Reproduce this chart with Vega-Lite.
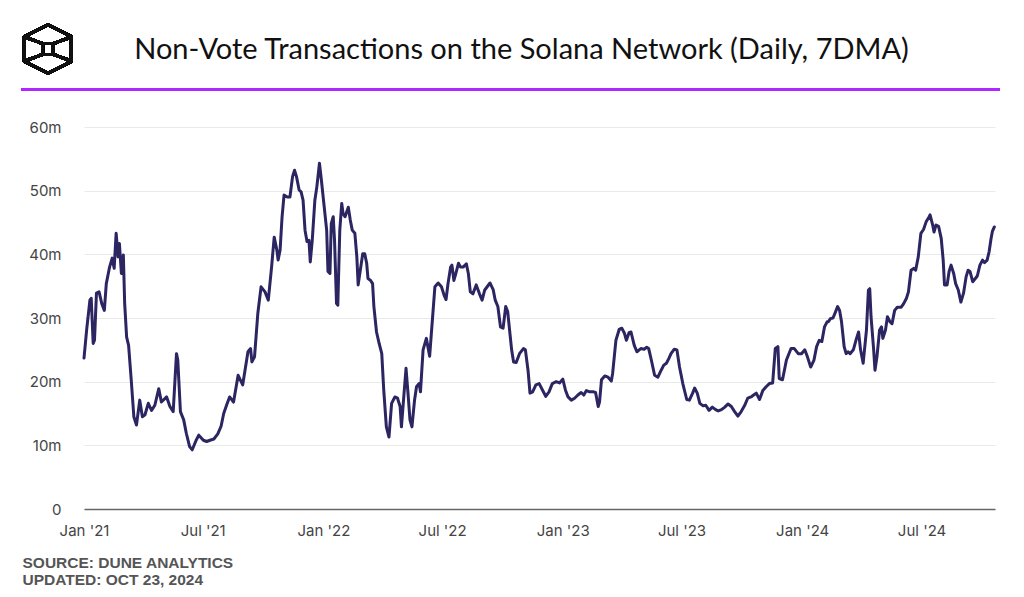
{
  "$schema": "https://vega.github.io/schema/vega-lite/v6.json",
  "width": 911,
  "height": 382,
  "autosize": {"type": "none"},
  "padding": {"left": 84, "top": 127, "right": 29, "bottom": 88},
  "background": "#ffffff",
  "config": {"view": {"stroke": null}},
  "title": {
    "text": "Non-Vote Transactions on the Solana Network (Daily, 7DMA)",
    "font": "Lato",
    "fontSize": 29,
    "fontWeight": 400,
    "color": "#111111",
    "anchor": "middle",
    "frame": "group",
    "baseline": "alphabetic",
    "offset": -64.5,
    "dx": -18
  },
  "data": {
    "format": {"parse": {"date": "date:'%Y-%m-%d'"}},
    "values": [
      {"date":"2021-01-01","v":23.7},{"date":"2021-01-05","v":28.1},{"date":"2021-01-10","v":32.8},{"date":"2021-01-12","v":33.1},
      {"date":"2021-01-15","v":26.0},{"date":"2021-01-17","v":26.5},{"date":"2021-01-20","v":33.9},{"date":"2021-01-24","v":34.1},
      {"date":"2021-01-28","v":32.3},{"date":"2021-02-01","v":31.2},{"date":"2021-02-04","v":35.4},{"date":"2021-02-09","v":38.0},
      {"date":"2021-02-13","v":39.4},{"date":"2021-02-16","v":37.8},{"date":"2021-02-19","v":43.3},{"date":"2021-02-22","v":39.6},
      {"date":"2021-02-24","v":41.7},{"date":"2021-02-27","v":37.0},{"date":"2021-03-02","v":39.9},{"date":"2021-03-04","v":32.3},
      {"date":"2021-03-07","v":27.0},{"date":"2021-03-10","v":25.7},{"date":"2021-03-14","v":20.3},{"date":"2021-03-18","v":14.5},
      {"date":"2021-03-22","v":13.2},{"date":"2021-03-27","v":17.1},{"date":"2021-03-31","v":14.5},{"date":"2021-04-04","v":14.8},
      {"date":"2021-04-09","v":16.6},{"date":"2021-04-14","v":15.5},{"date":"2021-04-19","v":16.3},{"date":"2021-04-25","v":18.9},
      {"date":"2021-04-29","v":16.8},{"date":"2021-05-07","v":17.6},{"date":"2021-05-12","v":16.1},{"date":"2021-05-17","v":15.3},
      {"date":"2021-05-22","v":24.4},{"date":"2021-05-24","v":23.4},{"date":"2021-05-28","v":15.3},{"date":"2021-06-02","v":14.0},
      {"date":"2021-06-06","v":11.9},{"date":"2021-06-11","v":9.8},{"date":"2021-06-15","v":9.3},{"date":"2021-06-21","v":10.8},
      {"date":"2021-06-25","v":11.6},{"date":"2021-07-02","v":10.8},{"date":"2021-07-07","v":10.6},{"date":"2021-07-12","v":10.8},
      {"date":"2021-07-18","v":11.0},{"date":"2021-07-24","v":11.8},{"date":"2021-07-29","v":13.0},{"date":"2021-08-02","v":15.0},
      {"date":"2021-08-07","v":16.5},{"date":"2021-08-11","v":17.6},{"date":"2021-08-17","v":16.8},{"date":"2021-08-24","v":21.0},
      {"date":"2021-08-31","v":19.5},{"date":"2021-09-08","v":24.7},{"date":"2021-09-12","v":25.2},{"date":"2021-09-14","v":23.1},
      {"date":"2021-09-18","v":23.9},{"date":"2021-09-23","v":30.7},{"date":"2021-09-28","v":34.9},{"date":"2021-10-04","v":34.1},
      {"date":"2021-10-09","v":32.8},{"date":"2021-10-14","v":38.0},{"date":"2021-10-18","v":42.7},{"date":"2021-10-22","v":40.7},
      {"date":"2021-10-24","v":39.1},{"date":"2021-10-27","v":40.7},{"date":"2021-10-30","v":45.9},{"date":"2021-11-02","v":49.3},
      {"date":"2021-11-07","v":49.0},{"date":"2021-11-11","v":49.0},{"date":"2021-11-15","v":52.2},{"date":"2021-11-18","v":53.2},
      {"date":"2021-11-21","v":52.2},{"date":"2021-11-25","v":50.1},{"date":"2021-11-28","v":49.8},{"date":"2021-12-01","v":48.5},
      {"date":"2021-12-04","v":43.8},{"date":"2021-12-07","v":42.0},{"date":"2021-12-10","v":42.2},{"date":"2021-12-12","v":38.8},
      {"date":"2021-12-15","v":42.2},{"date":"2021-12-19","v":48.5},{"date":"2021-12-22","v":50.6},{"date":"2021-12-26","v":54.3},
      {"date":"2021-12-29","v":51.6},{"date":"2022-01-02","v":47.7},{"date":"2022-01-06","v":43.8},{"date":"2022-01-08","v":37.3},
      {"date":"2022-01-11","v":37.0},{"date":"2022-01-13","v":44.8},{"date":"2022-01-16","v":45.9},{"date":"2022-01-18","v":42.2},
      {"date":"2022-01-21","v":32.3},{"date":"2022-01-23","v":32.0},{"date":"2022-01-26","v":43.8},{"date":"2022-01-29","v":48.0},
      {"date":"2022-01-31","v":46.4},{"date":"2022-02-03","v":45.9},{"date":"2022-02-08","v":47.4},{"date":"2022-02-11","v":45.4},
      {"date":"2022-02-14","v":43.8},{"date":"2022-02-18","v":43.3},{"date":"2022-02-21","v":39.6},{"date":"2022-02-23","v":35.2},
      {"date":"2022-02-27","v":38.0},{"date":"2022-03-02","v":40.1},{"date":"2022-03-05","v":40.1},{"date":"2022-03-08","v":38.6},
      {"date":"2022-03-10","v":36.2},{"date":"2022-03-14","v":35.9},{"date":"2022-03-17","v":35.4},{"date":"2022-03-19","v":31.8},
      {"date":"2022-03-23","v":27.8},{"date":"2022-03-27","v":26.0},{"date":"2022-03-31","v":24.4},{"date":"2022-04-03","v":18.7},
      {"date":"2022-04-07","v":12.9},{"date":"2022-04-11","v":11.3},{"date":"2022-04-15","v":16.6},{"date":"2022-04-20","v":17.6},
      {"date":"2022-04-24","v":17.4},{"date":"2022-04-28","v":16.1},{"date":"2022-04-30","v":12.9},{"date":"2022-05-04","v":18.2},
      {"date":"2022-05-07","v":22.1},{"date":"2022-05-10","v":18.2},{"date":"2022-05-13","v":14.0},{"date":"2022-05-16","v":12.9},
      {"date":"2022-05-20","v":17.1},{"date":"2022-05-23","v":19.2},{"date":"2022-05-27","v":19.7},{"date":"2022-05-29","v":18.4},
      {"date":"2022-06-02","v":25.0},{"date":"2022-06-07","v":26.8},{"date":"2022-06-12","v":24.0},{"date":"2022-06-20","v":34.9},
      {"date":"2022-06-25","v":35.5},{"date":"2022-06-30","v":34.9},{"date":"2022-07-04","v":33.6},{"date":"2022-07-07","v":32.9},
      {"date":"2022-07-10","v":35.4},{"date":"2022-07-14","v":38.0},{"date":"2022-07-16","v":38.3},{"date":"2022-07-19","v":35.9},
      {"date":"2022-07-22","v":37.0},{"date":"2022-07-26","v":38.6},{"date":"2022-07-29","v":38.0},{"date":"2022-08-02","v":38.0},
      {"date":"2022-08-07","v":38.5},{"date":"2022-08-10","v":37.0},{"date":"2022-08-13","v":34.1},{"date":"2022-08-17","v":33.8},
      {"date":"2022-08-22","v":35.2},{"date":"2022-08-27","v":33.8},{"date":"2022-08-31","v":32.8},{"date":"2022-09-04","v":34.4},
      {"date":"2022-09-12","v":35.5},{"date":"2022-09-17","v":34.4},{"date":"2022-09-20","v":32.8},{"date":"2022-09-24","v":31.8},
      {"date":"2022-09-28","v":28.6},{"date":"2022-10-02","v":28.4},{"date":"2022-10-06","v":31.8},{"date":"2022-10-09","v":31.0},
      {"date":"2022-10-15","v":25.0},{"date":"2022-10-18","v":23.1},{"date":"2022-10-22","v":23.0},{"date":"2022-10-27","v":24.4},
      {"date":"2022-11-02","v":25.2},{"date":"2022-11-05","v":25.0},{"date":"2022-11-09","v":21.8},{"date":"2022-11-12","v":18.2},
      {"date":"2022-11-16","v":18.4},{"date":"2022-11-21","v":19.5},{"date":"2022-11-26","v":19.7},{"date":"2022-12-01","v":18.7},
      {"date":"2022-12-06","v":17.7},{"date":"2022-12-11","v":18.4},{"date":"2022-12-16","v":19.7},{"date":"2022-12-22","v":20.0},
      {"date":"2022-12-27","v":19.8},{"date":"2023-01-01","v":20.4},{"date":"2023-01-05","v":18.7},{"date":"2023-01-09","v":17.6},
      {"date":"2023-01-14","v":17.1},{"date":"2023-01-19","v":17.4},{"date":"2023-01-24","v":17.9},{"date":"2023-01-29","v":18.3},
      {"date":"2023-02-02","v":17.9},{"date":"2023-02-06","v":18.6},{"date":"2023-02-11","v":18.4},{"date":"2023-02-17","v":18.4},
      {"date":"2023-02-20","v":18.3},{"date":"2023-02-24","v":16.1},{"date":"2023-02-26","v":16.8},{"date":"2023-03-01","v":20.3},
      {"date":"2023-03-06","v":20.9},{"date":"2023-03-11","v":20.7},{"date":"2023-03-16","v":20.1},{"date":"2023-03-18","v":21.3},
      {"date":"2023-03-23","v":26.5},{"date":"2023-03-28","v":28.2},{"date":"2023-04-01","v":28.4},{"date":"2023-04-05","v":27.6},
      {"date":"2023-04-08","v":26.5},{"date":"2023-04-12","v":27.7},{"date":"2023-04-15","v":27.8},{"date":"2023-04-20","v":25.7},
      {"date":"2023-04-24","v":24.7},{"date":"2023-04-30","v":25.2},{"date":"2023-05-05","v":25.1},{"date":"2023-05-09","v":25.4},
      {"date":"2023-05-12","v":25.2},{"date":"2023-05-16","v":23.4},{"date":"2023-05-21","v":21.0},{"date":"2023-05-26","v":20.7},
      {"date":"2023-05-31","v":21.8},{"date":"2023-06-04","v":22.6},{"date":"2023-06-08","v":22.9},{"date":"2023-06-12","v":23.7},
      {"date":"2023-06-15","v":24.4},{"date":"2023-06-20","v":25.1},{"date":"2023-06-24","v":25.0},{"date":"2023-06-28","v":22.3},
      {"date":"2023-07-03","v":19.7},{"date":"2023-07-09","v":17.2},{"date":"2023-07-13","v":17.1},{"date":"2023-07-18","v":18.2},
      {"date":"2023-07-21","v":19.0},{"date":"2023-07-25","v":18.2},{"date":"2023-07-29","v":16.6},{"date":"2023-08-03","v":16.2},
      {"date":"2023-08-07","v":16.3},{"date":"2023-08-12","v":15.5},{"date":"2023-08-17","v":16.0},{"date":"2023-08-22","v":15.6},
      {"date":"2023-08-26","v":15.4},{"date":"2023-08-31","v":15.6},{"date":"2023-09-05","v":16.0},{"date":"2023-09-10","v":16.5},
      {"date":"2023-09-15","v":16.1},{"date":"2023-09-20","v":15.3},{"date":"2023-09-25","v":14.6},{"date":"2023-09-30","v":15.3},
      {"date":"2023-10-05","v":16.2},{"date":"2023-10-10","v":17.4},{"date":"2023-10-15","v":17.6},{"date":"2023-10-19","v":17.9},
      {"date":"2023-10-23","v":18.2},{"date":"2023-10-28","v":17.2},{"date":"2023-11-02","v":18.6},{"date":"2023-11-07","v":19.2},
      {"date":"2023-11-12","v":19.7},{"date":"2023-11-17","v":19.8},{"date":"2023-11-21","v":25.2},{"date":"2023-11-25","v":25.5},
      {"date":"2023-11-27","v":20.5},{"date":"2023-12-02","v":20.3},{"date":"2023-12-08","v":23.4},{"date":"2023-12-15","v":25.2},
      {"date":"2023-12-20","v":25.2},{"date":"2023-12-26","v":24.4},{"date":"2023-12-31","v":24.4},{"date":"2024-01-05","v":25.0},
      {"date":"2024-01-09","v":23.9},{"date":"2024-01-14","v":22.3},{"date":"2024-01-19","v":23.4},{"date":"2024-01-23","v":25.5},
      {"date":"2024-01-27","v":26.5},{"date":"2024-01-31","v":26.3},{"date":"2024-02-04","v":28.6},{"date":"2024-02-08","v":29.4},
      {"date":"2024-02-10","v":29.4},{"date":"2024-02-13","v":29.9},{"date":"2024-02-17","v":30.0},{"date":"2024-02-21","v":31.0},
      {"date":"2024-02-24","v":31.8},{"date":"2024-02-27","v":31.2},{"date":"2024-03-01","v":29.4},{"date":"2024-03-05","v":25.5},
      {"date":"2024-03-08","v":24.4},{"date":"2024-03-11","v":24.7},{"date":"2024-03-14","v":24.4},{"date":"2024-03-19","v":25.0},
      {"date":"2024-03-23","v":26.5},{"date":"2024-03-27","v":27.8},{"date":"2024-03-30","v":25.0},{"date":"2024-04-03","v":22.9},
      {"date":"2024-04-08","v":28.1},{"date":"2024-04-11","v":34.4},{"date":"2024-04-13","v":34.6},{"date":"2024-04-15","v":30.2},
      {"date":"2024-04-19","v":25.0},{"date":"2024-04-21","v":21.8},{"date":"2024-04-24","v":23.9},{"date":"2024-04-28","v":28.1},
      {"date":"2024-05-01","v":28.6},{"date":"2024-05-03","v":26.8},{"date":"2024-05-07","v":28.1},{"date":"2024-05-10","v":30.2},
      {"date":"2024-05-14","v":29.4},{"date":"2024-05-17","v":29.1},{"date":"2024-05-21","v":31.2},{"date":"2024-05-25","v":31.7},
      {"date":"2024-05-31","v":31.7},{"date":"2024-06-04","v":32.3},{"date":"2024-06-08","v":33.1},{"date":"2024-06-11","v":34.1},
      {"date":"2024-06-15","v":37.5},{"date":"2024-06-19","v":37.8},{"date":"2024-06-22","v":37.5},{"date":"2024-06-26","v":39.6},
      {"date":"2024-06-30","v":43.3},{"date":"2024-07-04","v":43.9},{"date":"2024-07-08","v":45.1},{"date":"2024-07-12","v":45.8},
      {"date":"2024-07-14","v":46.2},{"date":"2024-07-18","v":44.6},{"date":"2024-07-20","v":43.5},{"date":"2024-07-23","v":44.6},
      {"date":"2024-07-27","v":44.4},{"date":"2024-07-31","v":42.5},{"date":"2024-08-03","v":39.1},{"date":"2024-08-05","v":35.2},
      {"date":"2024-08-09","v":35.2},{"date":"2024-08-12","v":37.3},{"date":"2024-08-15","v":38.3},{"date":"2024-08-19","v":37.0},
      {"date":"2024-08-22","v":35.4},{"date":"2024-08-26","v":34.4},{"date":"2024-08-30","v":32.5},{"date":"2024-09-03","v":33.9},
      {"date":"2024-09-07","v":36.5},{"date":"2024-09-10","v":37.5},{"date":"2024-09-13","v":37.3},{"date":"2024-09-17","v":35.7},
      {"date":"2024-09-21","v":36.2},{"date":"2024-09-24","v":36.6},{"date":"2024-09-28","v":38.3},{"date":"2024-10-02","v":39.1},
      {"date":"2024-10-05","v":38.7},{"date":"2024-10-09","v":39.1},{"date":"2024-10-12","v":40.4},{"date":"2024-10-15","v":42.5},
      {"date":"2024-10-17","v":43.6},{"date":"2024-10-20","v":44.3}
    ]
  },
  "layer": [
    {
      "mark": {"type": "line", "color": "#2b2562", "strokeWidth": 3, "strokeJoin": "round", "strokeCap": "round"},
      "encoding": {
        "x": {
          "field": "date",
          "type": "temporal",
          "scale": {"domain": [{"year": 2021, "month": 1, "date": 1}, {"year": 2024, "month": 10, "date": 21}]},
          "axis": {
            "values": [
              {"year": 2021, "month": 1, "date": 1}, {"year": 2021, "month": 7, "date": 1},
              {"year": 2022, "month": 1, "date": 1}, {"year": 2022, "month": 7, "date": 1},
              {"year": 2023, "month": 1, "date": 1}, {"year": 2023, "month": 7, "date": 1},
              {"year": 2024, "month": 1, "date": 1}, {"year": 2024, "month": 7, "date": 1}
            ],
            "format": "%b '%y",
            "grid": false,
            "ticks": false,
            "tickSize": 0,
            "domain": true,
            "domainColor": "#666666",
            "domainWidth": 1.5,
            "labelFont": "Inter",
            "labelFontSize": 15,
            "labelColor": "#444444",
            "labelPadding": 14,
            "labelBaseline": "top",
            "labelOverlap": false,
            "labelFlush": false,
            "labelBound": false,
            "title": ["SOURCE: DUNE ANALYTICS", "UPDATED: OCT 23, 2024"],
            "titleFont": "Liberation Sans",
            "titleFontWeight": "bold",
            "titleFontSize": 15.5,
            "titleColor": "#555555",
            "titleAnchor": "start",
            "titleAlign": "left",
            "titleBaseline": "alphabetic",
            "titleLineHeight": 17,
            "titleX": -62,
            "titleY": 58
          }
        },
        "y": {
          "field": "v",
          "type": "quantitative",
          "scale": {"domain": [0, 60], "nice": false, "zero": true},
          "axis": {
            "values": [0, 10, 20, 30, 40, 50, 60],
            "labelExpr": "datum.value == 0 ? '0' : datum.value + 'm'",
            "grid": true,
            "gridColor": "#e9e9e9",
            "gridWidth": 1,
            "ticks": false,
            "domain": false,
            "labelFont": "Inter",
            "labelFontSize": 15,
            "labelColor": "#444444",
            "labelPadding": 23,
            "title": null
          }
        }
      }
    },
    {
      "mark": {"type": "rule", "color": "#b026ff", "strokeWidth": 2},
      "encoding": {
        "x": {"datum": {"year": 2020, "month": 9, "date": 28}, "type": "temporal"},
        "x2": {"datum": {"year": 2024, "month": 10, "date": 28}},
        "y": {"datum": 65.9, "type": "quantitative"}
      }
    },
    {
      "mark": {
        "type": "point",
        "shape": "M0,-1 L0.96,-0.5 L0.96,0.5 L0,1 L-0.96,0.5 L-0.96,-0.5 Z M-0.22,-0.22 L0.22,-0.22 L0.22,0.22 L-0.22,0.22 Z M-0.96,-0.5 L-0.22,-0.22 M0.96,-0.5 L0.22,-0.22 M-0.96,0.5 L-0.22,0.22 M0.96,0.5 L0.22,0.22",
        "size": 2400,
        "filled": false,
        "stroke": "#111111",
        "strokeWidth": 3,
        "opacity": 1,
        "strokeJoin": "round"
      },
      "encoding": {
        "x": {"datum": {"year": 2020, "month": 11, "date": 7}, "type": "temporal"},
        "y": {"datum": 72.25, "type": "quantitative"}
      }
    }
  ]
}
